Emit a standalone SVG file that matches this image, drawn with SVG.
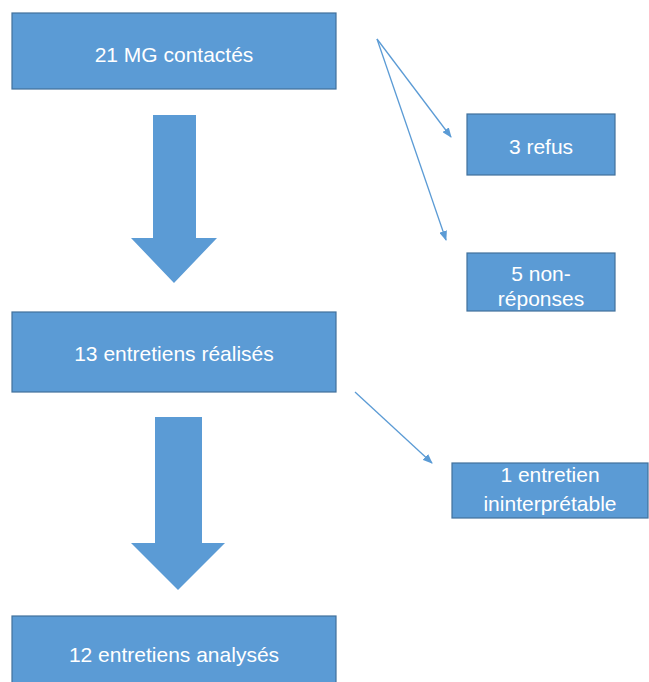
<svg xmlns="http://www.w3.org/2000/svg" width="649" height="682" viewBox="0 0 649 682">
<defs>
<style>
.box{fill:#5B9BD5;stroke:#41719C;stroke-width:1.2}
.big{fill:#5B9BD5}
.t{font-family:"Liberation Sans",Arial,sans-serif;font-size:21px;fill:#FFFFFF;text-anchor:middle}
.ln{stroke:#5B9BD5;stroke-width:1.3;fill:none;marker-end:url(#ah)}
</style>
<marker id="ah" markerWidth="10" markerHeight="8" refX="9" refY="4" orient="auto" markerUnits="userSpaceOnUse">
<path d="M0,0 L10,4 L0,8 Z" fill="#5B9BD5"/>
</marker>
</defs>
<rect width="649" height="682" fill="#FFFFFF"/>
<g id="connectors">
<path class="big" d="M153,115 H196 V238 H217 L174,283 L131,238 H153 Z"/>
<path class="big" d="M155,417 H202 V543 H225 L178,590 L131,543 H155 Z"/>
<line class="ln" x1="377" y1="39" x2="451" y2="137"/>
<line class="ln" x1="377" y1="39" x2="446" y2="240"/>
<line class="ln" x1="355" y1="392" x2="432" y2="463"/>
</g>
<g id="n1"><rect class="box" x="12" y="13" width="324" height="76"/><text class="t" x="174" y="62">21 MG contactés</text></g>
<g id="n2"><rect class="box" x="12" y="312" width="324" height="80"/><text class="t" x="174" y="361">13 entretiens réalisés</text></g>
<g id="n3"><rect class="box" x="12" y="616" width="324" height="80"/><text class="t" x="174" y="662">12 entretiens analysés</text></g>
<g id="n4"><rect class="box" x="467" y="114" width="148" height="61"/><text class="t" x="541" y="154">3 refus</text></g>
<g id="n5"><rect class="box" x="467" y="253" width="148" height="58"/><text class="t" x="541" y="281">5 non-</text><text class="t" x="541" y="306">réponses</text></g>
<g id="n6"><rect class="box" x="452" y="463" width="196" height="55"/><text class="t" x="550" y="482">1 entretien</text><text class="t" x="550" y="511">ininterprétable</text></g>
</svg>
